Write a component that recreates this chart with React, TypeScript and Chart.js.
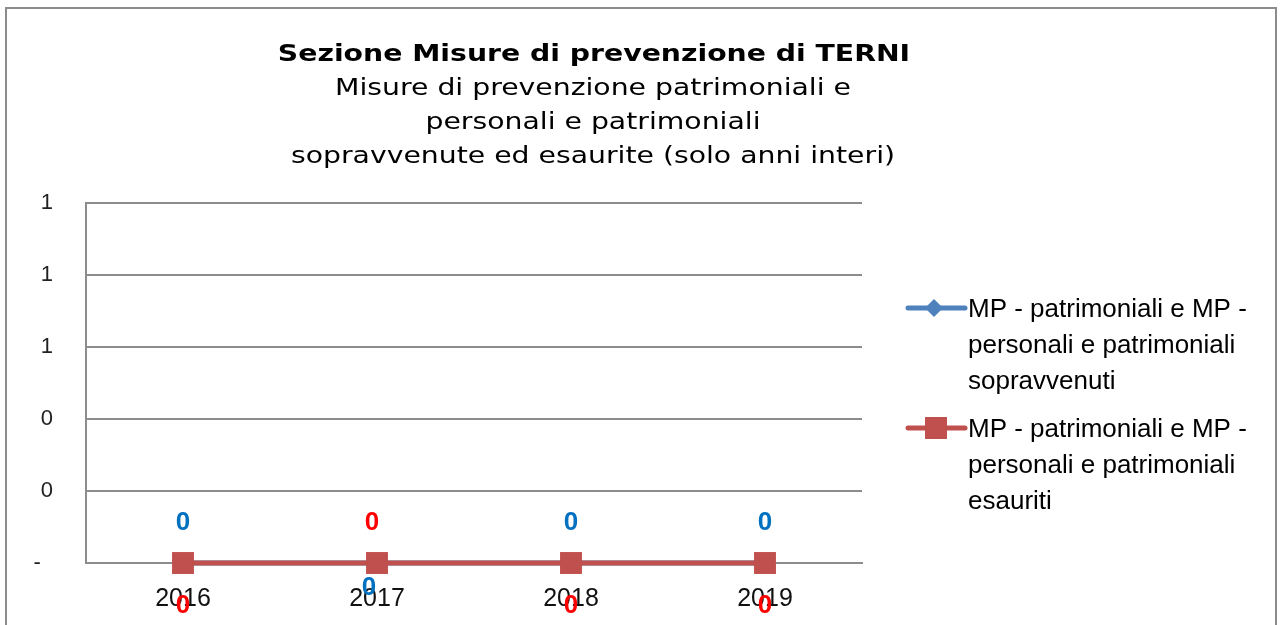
import React, { useEffect, useRef } from "react";
import { Chart, registerables } from "chart.js";

Chart.register(...registerables);

const years = ["2016", "2017", "2018", "2019"];
const sopravvenuti = [0, 0, 0, 0];
const esauriti = [0, 0, 0, 0];
const labelSopravvenuti = ["above", "below", "above", "above"];
const labelEsauriti = ["below", "above", "below", "below"];
const titleText = "Sezione Misure di prevenzione di TERNI";
const subtitleLines = [
  "Misure di prevenzione patrimoniali e",
  "personali e patrimoniali",
  "sopravvenute ed esaurite (solo anni interi)",
];
const legendSopravvenuti = ["MP - patrimoniali e MP -", "personali e patrimoniali", "sopravvenuti"];
const legendEsauriti = ["MP - patrimoniali e MP -", "personali e patrimoniali", "esauriti"];

const BLUE = "#4F81BD";
const RED = "#C0504D";
const AXIS = "#8C8C8C";
const TEXT_STRETCH = 1.23;

const decorPlugin = {
  id: "decor",
  afterDraw(chart: any) {
    const ctx = chart.ctx;
    ctx.save();
    // Title (stretched horizontally like the reference rendering)
    ctx.textAlign = "center";
    ctx.textBaseline = "alphabetic";
    ctx.fillStyle = "#000";
    const stretched = (text: string, cx: number, y: number) => {
      ctx.save();
      ctx.translate(cx, y);
      ctx.scale(TEXT_STRETCH, 1);
      ctx.fillText(text, 0, 0);
      ctx.restore();
    };
    ctx.font = "bold 23px 'DejaVu Sans'";
    stretched(titleText, 594, 61);
    ctx.font = "23px 'DejaVu Sans'";
    const subY = [95, 129, 163];
    subtitleLines.forEach((l, i) => stretched(l, 593, subY[i]));

    // Data labels
    ctx.textBaseline = "middle";
    ctx.font = "bold 26px 'Liberation Sans'";
    const drawLabels = (dsIndex: number, pos: string[], color: string, belowOff: number, dx: number) => {
      const meta = chart.getDatasetMeta(dsIndex);
      meta.data.forEach((pt: any, i: number) => {
        const v = chart.data.datasets[dsIndex].data[i];
        ctx.fillStyle = color;
        if (pos[i] === "above") ctx.fillText(String(v), pt.x + (dsIndex === 1 ? -5 : 0), pt.y - 40);
        else ctx.fillText(String(v), pt.x + dx, pt.y + belowOff);
      });
    };
    drawLabels(0, labelSopravvenuti, "#0070C0", 25, -8);
    drawLabels(1, labelEsauriti, "#FF0000", 43, 0);

    // Legend
    const drawLegend = (y: number, lines: string[], color: string, marker: string) => {
      ctx.strokeStyle = color;
      ctx.lineWidth = 5;
      ctx.lineCap = "round";
      ctx.beginPath();
      ctx.moveTo(908, y);
      ctx.lineTo(965, y);
      ctx.stroke();
      ctx.fillStyle = color;
      if (marker === "diamond") {
        ctx.beginPath();
        ctx.moveTo(934, y - 9);
        ctx.lineTo(943, y);
        ctx.lineTo(934, y + 9);
        ctx.lineTo(925, y);
        ctx.closePath();
        ctx.fill();
      } else {
        ctx.fillRect(925, y - 11, 22, 22);
      }
      ctx.fillStyle = "#000";
      ctx.textAlign = "left";
      ctx.textBaseline = "alphabetic";
      ctx.font = "26px 'Liberation Sans'";
      lines.forEach((l, i) => ctx.fillText(l, 968, y + 9 + i * 36));
    };
    drawLegend(308, legendSopravvenuti, BLUE, "diamond");
    drawLegend(428, legendEsauriti, RED, "square");
    ctx.restore();
  },
};

export default function App() {
  const ref = useRef<HTMLCanvasElement>(null);
  useEffect(() => {
    if (!ref.current) return;
    const chart = new Chart(ref.current, {
      type: "line",
      data: {
        labels: years,
        datasets: [
          {
            label: legendSopravvenuti.join(" "),
            data: sopravvenuti,
            borderColor: BLUE,
            backgroundColor: BLUE,
            borderWidth: 5,
            pointStyle: "rectRot",
            pointRadius: 9,
            pointBorderWidth: 0,
            clip: false,
            order: 1,
          },
          {
            label: legendEsauriti.join(" "),
            data: esauriti,
            borderColor: RED,
            backgroundColor: RED,
            borderWidth: 5,
            pointStyle: "rect",
            pointRadius: 15.5,
            pointBorderWidth: 0,
            clip: false,
            order: 0,
          },
        ],
      },
      options: {
        responsive: false,
        animation: false,
        layout: { padding: { top: 203, right: 420, left: 0, bottom: 0 } },
        plugins: {
          legend: { display: false },
          title: { display: false },
          tooltip: { enabled: false },
        },
        scales: {
          x: {
            offset: true,
            grid: { display: false, drawTicks: false },
            border: { display: true, color: AXIS, width: 2 },
            ticks: { padding: 21, color: "#111", font: { family: "Liberation Sans", size: 25 } },
            afterFit: (s: any) => {
              s.height = 62;
            },
          },
          y: {
            min: 0,
            max: 1,
            grid: { color: AXIS, lineWidth: 2, drawTicks: false },
            border: { display: true, color: AXIS, width: 2 },
            ticks: {
              stepSize: 0.2,
              padding: 33,
              color: "#222",
              font: { family: "Liberation Sans", size: 22 },
              callback: (v: any) => (Number(v) === 0 ? "-  " : String(Math.round(Number(v)))),
            },
            afterFit: (s: any) => {
              s.width = 86;
            },
          },
        },
      },
      plugins: [decorPlugin],
    });
    return () => chart.destroy();
  }, []);
  return (
    <div style={{ position: "absolute", left: 0, top: 0, width: 1282, height: 625, overflow: "hidden", background: "#fff" }}>
      <div
        style={{
          position: "absolute",
          left: 5,
          top: 7,
          width: 1268,
          height: 700,
          border: "2px solid #8C8C8C",
        }}
      />
      <canvas ref={ref} width={1282} height={625} style={{ position: "absolute", left: 0, top: 0 }} />
    </div>
  );
}
